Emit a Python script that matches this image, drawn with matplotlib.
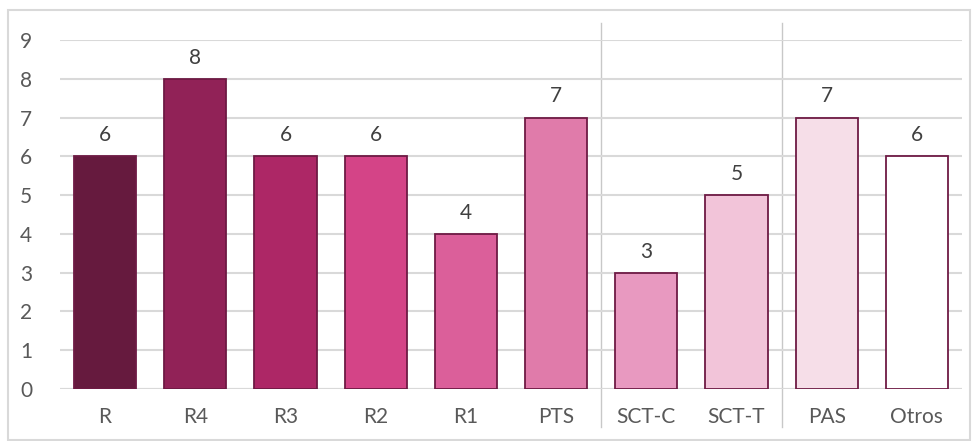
import matplotlib.pyplot as plt
from matplotlib.patches import Rectangle

categories = ["R", "R4", "R3", "R2", "R1", "PTS", "SCT-C", "SCT-T", "PAS", "Otros"]
values = [6, 8, 6, 6, 4, 7, 3, 5, 7, 6]
bar_colors = ["#661A3E", "#912257", "#AD2766", "#D44487", "#DB5F9A",
              "#E07BAA", "#E899C0", "#F2C4D9", "#F6DEE8", "#FFFFFF"]
group_breaks = [5.5, 7.5]

plt.rcParams["font.family"] = ["Lato", "DejaVu Sans"]
text_color = "#595959"
grid_color = "#D9D9D9"

fig = plt.figure(figsize=(9.78, 4.41), dpi=100)
ax = fig.add_axes([0.0613, 0.1179, 0.9223, 0.7914])

x = list(range(len(categories)))
bars = ax.bar(x, values, width=0.69, color=bar_colors, edgecolor="#6E1A44",
              linewidth=1.3, zorder=3)

for b, v in zip(bars, values):
    ax.annotate(str(v), (b.get_x() + b.get_width() / 2, v), xytext=(0, 8),
                textcoords="offset points", ha="center", va="bottom",
                fontsize=15, color="#404040")

ax.set_xlim(-0.5, len(categories) - 0.5)
ax.set_ylim(0, 9)
ax.set_yticks(range(0, 10))
ax.set_xticks(x)
ax.set_xticklabels(categories)
ax.tick_params(axis="both", length=0, labelsize=15, colors=text_color)
ax.tick_params(axis="y", pad=20)
ax.tick_params(axis="x", pad=13)
ax.yaxis.grid(True, color=grid_color, linewidth=1.5, zorder=0)
for s in ax.spines.values():
    s.set_visible(False)
ax.axhline(0, color=grid_color, linewidth=1.5, zorder=2)

# separators between groups
for gx in group_breaks:
    ax.plot([gx, gx], [-0.109, 1.049], transform=ax.get_xaxis_transform(),
            color="#C8C8C8", linewidth=1, clip_on=False, zorder=1)

# chart border
fig.patches.append(Rectangle((8 / 978, 1 / 441), 962 / 978, 430 / 441,
                             transform=fig.transFigure, fill=False,
                             edgecolor=grid_color, linewidth=1.5))

fig.savefig("out.png", dpi=100)
